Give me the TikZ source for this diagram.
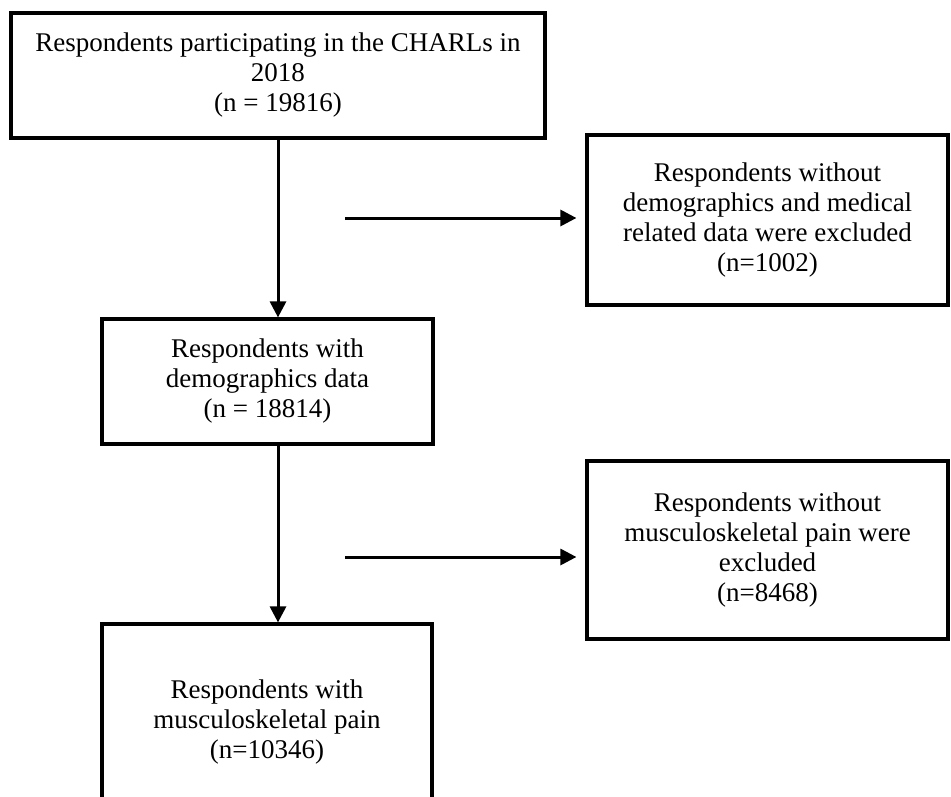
\documentclass[tikz,border=0pt]{standalone}
\usepackage{fontspec}
\setmainfont{Liberation Serif}
\usetikzlibrary{arrows.meta}
\begin{document}
\begin{tikzpicture}[x=1pt,y=-1pt,
  box/.style={draw,line width=3.2pt,align=center,font=\fontsize{27}{30}\selectfont,inner sep=0pt},
  arr/.style={line width=3pt,-{Triangle[length=16pt,width=16pt]}}]
\useasboundingbox (0,0) rectangle (951,797);
\clip (0,0) rectangle (951,797);
\node[box,minimum width=534pt,minimum height=125pt] (b1) at (278,75.5)
  {Respondents participating in the CHARLs in\\2018\\(n = 19816)};
\node[box,minimum width=331pt,minimum height=125pt] (b2) at (267.5,381.5)
  {Respondents with\\demographics data\\(n = 18814)};
\node[box,minimum width=361pt,minimum height=170pt] (b3) at (767.5,220)
  {Respondents without\\demographics and medical\\related data were excluded\\(n=1002)};
\node[box,minimum width=361pt,minimum height=178pt] (b4) at (767.5,550)
  {Respondents without\\musculoskeletal pain were\\excluded\\(n=8468)};
\node[box,minimum width=330pt,minimum height=196pt] (b5) at (267,722)
  {Respondents with\\musculoskeletal pain\\(n=10346)};
\coordinate (h1) at (345,218);
\coordinate (h2) at (345,557);
\draw[arr] (b1.south) -- (b1.south |- b2.north);
\draw[arr] (b1.south |- b2.south) -- (b1.south |- b5.north);
\draw[arr,shorten >=9pt] (h1) -- (h1 -| b3.west);
\draw[arr,shorten >=9pt] (h2) -- (h2 -| b4.west);
\end{tikzpicture}
\end{document}
